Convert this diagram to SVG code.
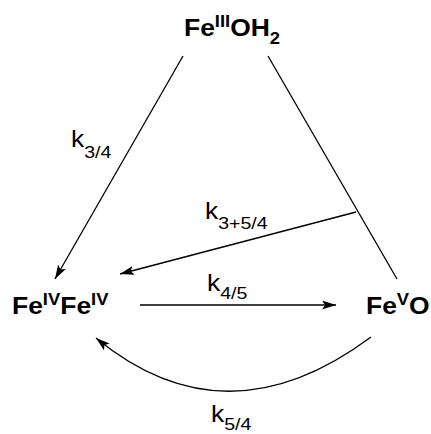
<svg xmlns="http://www.w3.org/2000/svg" width="431" height="434" viewBox="0 0 431 434">
<style>
.sp{font-family:"Liberation Sans",Arial,sans-serif;font-weight:bold;font-size:23px;fill:#000}
.sup{font-size:16px}
.k{font-family:"Liberation Sans",Arial,sans-serif;font-size:23px;fill:#000}
.ks{font-size:17px}
.ln{stroke:#000;stroke-width:1.3;fill:none}
</style>
<defs>
<marker id="ah" markerUnits="userSpaceOnUse" markerWidth="15" markerHeight="10" refX="14" refY="4.5" orient="auto">
<path d="M0,0 L14,4.5 L0,9 L3,4.5 z" fill="#000"/>
</marker>
</defs>
<rect width="431" height="434" fill="#fff"/>
<g id="connectors">
<line class="ln" x1="183" y1="56" x2="55" y2="279" marker-end="url(#ah)"/>
<line class="ln" x1="268" y1="56" x2="397" y2="279"/>
<line class="ln" x1="356" y1="212" x2="120" y2="274" marker-end="url(#ah)"/>
<line class="ln" x1="140" y1="305" x2="336" y2="305" marker-end="url(#ah)"/>
<path class="ln" d="M371,337 Q226,445 96,338" marker-end="url(#ah)"/>
</g>
<g id="labels">
<text class="k" transform="translate(71,147) scale(1.15,1)">k<tspan class="ks" y="11">3/4</tspan></text>
<text class="k" transform="translate(205,219) scale(1.15,1)">k<tspan class="ks" y="10">3+5/4</tspan></text>
<text class="k" transform="translate(207,291) scale(1.15,1)">k<tspan class="ks" y="8">4/5</tspan></text>
<text class="k" transform="translate(211,422) scale(1.15,1)">k<tspan class="ks" y="8">5/4</tspan></text>
</g>
<g id="fe3oh2">
<text class="sp" transform="translate(184,36) scale(1.15,1)">Fe<tspan class="sup" y="-9">III</tspan><tspan y="0">OH</tspan><tspan class="sup" y="8">2</tspan></text>
</g>
<g id="fe4fe4">
<text class="sp" transform="translate(12,314) scale(1.15,1)">Fe<tspan class="sup" y="-9">IV</tspan><tspan y="0">Fe</tspan><tspan class="sup" y="-9">IV</tspan></text>
</g>
<g id="fe5o">
<text class="sp" transform="translate(366,314) scale(1.15,1)">Fe<tspan class="sup" y="-9">V</tspan><tspan y="0">O</tspan></text>
</g>
</svg>
